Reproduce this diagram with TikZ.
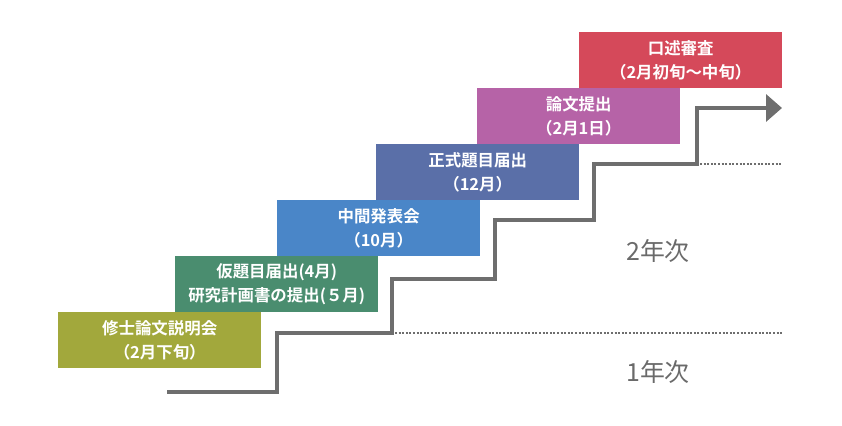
\documentclass[tikz,border=0pt]{standalone}
\usepackage{fontspec}
\setmainfont{Noto Sans CJK JP}[BoldFont={Noto Sans CJK JP Bold}]
\usetikzlibrary{arrows.meta}
\definecolor{cA}{HTML}{A2A83C}
\definecolor{cB}{HTML}{4A8D6F}
\definecolor{cC}{HTML}{4A86C8}
\definecolor{cD}{HTML}{5A6FA8}
\definecolor{cE}{HTML}{B663A7}
\definecolor{cF}{HTML}{D5495A}
\definecolor{stair}{HTML}{6E6E6E}
\definecolor{yeartxt}{HTML}{6A6A6A}
\tikzset{
  stepbox/.style={anchor=north west, minimum width=203bp, minimum height=56bp,
    inner sep=0pt, text=white, align=center,
    font=\fontsize{16.5}{24}\selectfont\bfseries},
  yearlabel/.style={text=yeartxt, font=\fontsize{25}{28}\selectfont},
  stairline/.style={draw=stair, line width=3.5bp},
  dotline/.style={draw=stair, line width=2bp, dash pattern=on 2bp off 1.6bp},
}
\begin{document}
\begin{tikzpicture}[x=1bp,y=-1bp]
\useasboundingbox (0,0) rectangle (842,425);
\node[stepbox, fill=cA] (b1) at (58,312) {修士論文説明会\\（2月下旬）};
\node[stepbox, fill=cB] (b2) at (175,256) {仮題目届出(4月)\\研究計画書の提出(５月)};
\node[stepbox, fill=cC] (b3) at (277,200) {中間発表会\\（10月）};
\node[stepbox, fill=cD] (b4) at (376,144) {正式題目届出\\（12月）};
\node[stepbox, fill=cE] (b5) at (477,88) {論文提出\\（2月1日）};
\node[stepbox, fill=cF] (b6) at (579,32) {口述審査\\（2月初旬～中旬）};
\coordinate (s0) at (167,392);
\coordinate (arrowend) at (782,108);
\draw[dotline] (395,333) -- (782,333);
\draw[dotline] (700,164) -- (782,164);
\draw[stairline, -{Triangle[length=16bp,width=27bp]}]
  (s0) -| (277,333) -| (392,279) -| (495,220) -| (594,164) -| (697,108) -- (arrowend);
\node[yearlabel] (y2) at (658,251) {2年次};
\node[yearlabel] (y1) at (658,372) {1年次};
\end{tikzpicture}
\end{document}
